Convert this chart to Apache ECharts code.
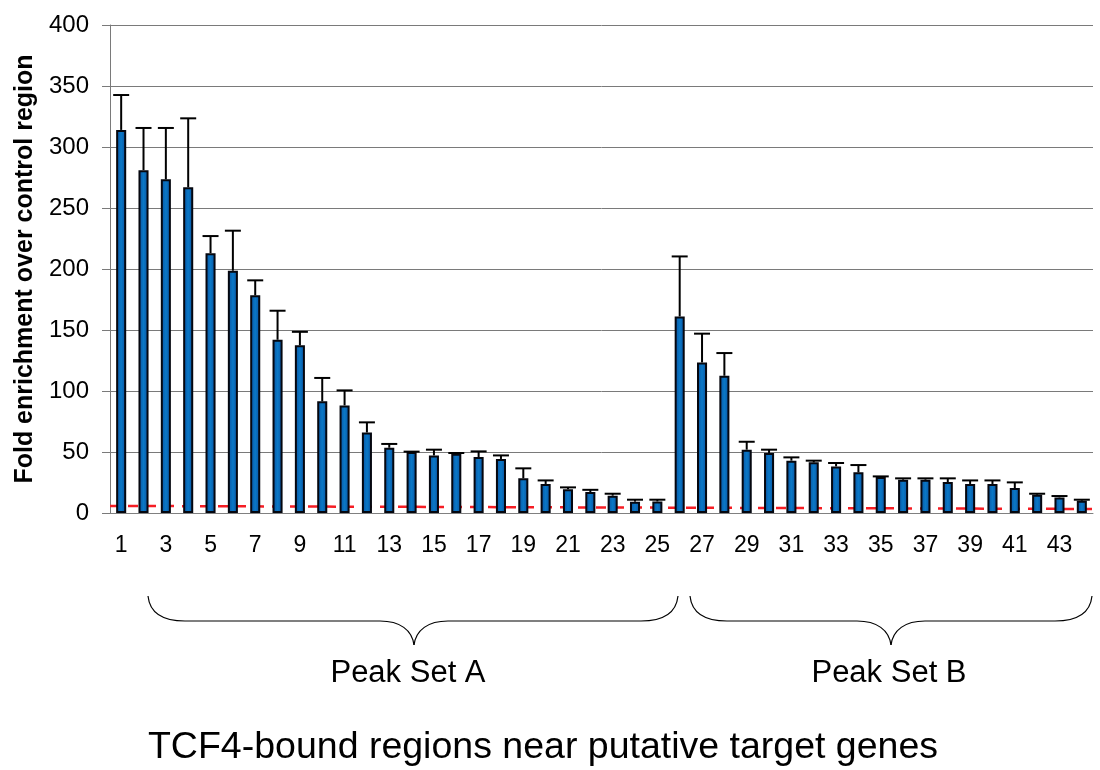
<!DOCTYPE html>
<html>
<head>
<meta charset="utf-8">
<script src="https://cdn.jsdelivr.net/npm/echarts@6/dist/echarts.min.js"></script>
<style>
  html, body { margin: 0; padding: 0; background: #fff; }
  #chart { width: 1100px; height: 770px; }
</style>
</head>
<body>
<div id="chart"></div>
<script>
// region numbers on the x axis
const regions = ['1','2','3','4','5','6','7','8','9','10','11','12','13','14','15','16','17','18','19','20','21','22',
  '23','24','25','26','27','28','29','30','31','32','33','34','35','36','37','38','39','40','41','42','43','44'];

// fold enrichment (bar height)
const enrichment = [314, 281, 273.5, 267, 213, 198.6, 178.4, 142, 137.4, 91.5,
  88.2, 66, 53.5, 50, 47.2, 48.6, 45.9, 44.3, 28.4, 23.8,
  19.5, 17.2, 14.2, 9.3, 9.5,
  161.1, 123.4, 112.5, 51.9, 49.2, 42.9, 41.5, 38.2, 33.3, 29.5,
  27.3, 27.3, 25.4, 23.8, 23.8, 20.5, 15, 12.8, 10.1];

// top of the error bar
const upper = [342.6, 315.6, 315.6, 323.5, 227, 231.4, 190.7, 165.8, 148.5, 110.7,
  100.5, 74.3, 56.6, 50.3, 51.9, 49.2, 50.5, 47.2, 36.6, 26.7,
  21, 19, 15.8, 10.9, 10.9,
  210.3, 147, 131.1, 58.4, 51.9, 45.6, 42.9, 41, 39.3, 30,
  28.4, 28.4, 28.4, 26.7, 26.7, 25.1, 15.8, 13.9, 10.9];

// red dashed control level, left end and right end
const controlX = [0, 44];
const controlY = [5.8, 3.3];

const font = 'Arial, "Liberation Sans", sans-serif';

const errData = enrichment.map((v, i) => [i, v, upper[i]]);

// curly brace under a group of peaks (pixel annotation)
function brace(x1, x2, xm) {
  const yEnd = 596, yMid = 621, yTip = 645;
  const st = { stroke: '#000', lineWidth: 1.2, fill: null };
  return {
    type: 'group',
    children: [
      { type: 'bezierCurve', shape: { x1: x1, y1: yEnd, cpx1: x1 + 2, cpy1: yEnd + 19, cpx2: x1 + 17, cpy2: yMid, x2: x1 + 37, y2: yMid }, style: st },
      { type: 'line', shape: { x1: x1 + 37, y1: yMid, x2: xm - 34, y2: yMid }, style: st },
      { type: 'bezierCurve', shape: { x1: xm - 34, y1: yMid, cpx1: xm - 14, cpy1: yMid, cpx2: xm - 2, cpy2: yMid + 9, x2: xm, y2: yTip }, style: st },
      { type: 'bezierCurve', shape: { x1: xm, y1: yTip, cpx1: xm + 2, cpy1: yMid + 9, cpx2: xm + 14, cpy2: yMid, x2: xm + 34, y2: yMid }, style: st },
      { type: 'line', shape: { x1: xm + 34, y1: yMid, x2: x2 - 37, y2: yMid }, style: st },
      { type: 'bezierCurve', shape: { x1: x2 - 37, y1: yMid, cpx1: x2 - 17, cpy1: yMid, cpx2: x2 - 2, cpy2: yEnd + 19, x2: x2, y2: yEnd }, style: st }
    ]
  };
}

const myChart = echarts.init(document.getElementById('chart'));

myChart.setOption({
  animation: false,
  backgroundColor: '#fff',
  grid: { left: 110, right: 7, top: 25, bottom: 257 },
  xAxis: [
    {
      type: 'category',
      data: regions,
      axisLine: { lineStyle: { color: '#808080', width: 1 } },
      axisTick: { show: false },
      axisLabel: { interval: 1, color: '#000', fontSize: 23, fontFamily: font, margin: 21 },
      splitLine: { show: false }
    },
    {
      type: 'value',
      min: 0,
      max: 44,
      show: false
    }
  ],
  yAxis: {
    type: 'value',
    min: 0,
    max: 400,
    interval: 50,
    name: 'Fold enrichment over control region',
    nameLocation: 'middle',
    nameGap: 72,
    nameTextStyle: { fontSize: 25, fontWeight: 'bold', color: '#000', fontFamily: font },
    axisLine: { show: true, lineStyle: { color: '#7a7a7a', width: 1 } },
    axisTick: { show: true, length: 8, lineStyle: { color: '#7a7a7a' } },
    axisLabel: { color: '#000', fontSize: 24, fontFamily: font, margin: 21 },
    splitLine: { lineStyle: { color: '#7a7a7a', width: 1 } }
  },
  series: [
    {
      type: 'line',
      xAxisIndex: 1,
      data: controlX.map((x, i) => [x, controlY[i]]),
      symbol: 'none',
      lineStyle: { color: '#f51d24', width: 2.5, type: [10, 8] },
      z: 1
    },
    {
      type: 'bar',
      data: enrichment,
      barWidth: '45%',
      itemStyle: {
        color: {
          type: 'linear', x: 0, y: 0, x2: 1, y2: 0,
          colorStops: [
            { offset: 0, color: '#0b4f9e' },
            { offset: 0.5, color: '#0a78c6' },
            { offset: 1, color: '#0b4f9e' }
          ]
        },
        borderColor: '#05070f',
        borderWidth: 2
      },
      z: 2
    },
    {
      type: 'custom',
      data: errData,
      z: 3,
      renderItem: function (params, api) {
        const base = api.coord([api.value(0), api.value(1)]);
        const top = api.coord([api.value(0), api.value(2)]);
        const half = 8;
        return {
          type: 'group',
          children: [
            {
              type: 'line',
              shape: { x1: base[0], y1: base[1], x2: top[0], y2: top[1] },
              style: { stroke: '#000', lineWidth: 2 }
            },
            {
              type: 'line',
              shape: { x1: top[0] - half, y1: top[1], x2: top[0] + half, y2: top[1] },
              style: { stroke: '#000', lineWidth: 2 }
            }
          ]
        };
      }
    }
  ],
  graphic: [
    brace(148, 678, 414),
    brace(690, 1092, 891),
    {
      type: 'text', x: 408, y: 673,
      style: { text: 'Peak Set A', fontSize: 31, fontFamily: font, fill: '#000', align: 'center', verticalAlign: 'middle' }
    },
    {
      type: 'text', x: 889, y: 673,
      style: { text: 'Peak Set B', fontSize: 31, fontFamily: font, fill: '#000', align: 'center', verticalAlign: 'middle' }
    },
    {
      type: 'text', x: 543, y: 748,
      style: { text: 'TCF4-bound regions near putative target genes', fontSize: 37.5, fontFamily: font, fill: '#000', align: 'center', verticalAlign: 'middle' }
    }
  ]
});
</script>
</body>
</html>
